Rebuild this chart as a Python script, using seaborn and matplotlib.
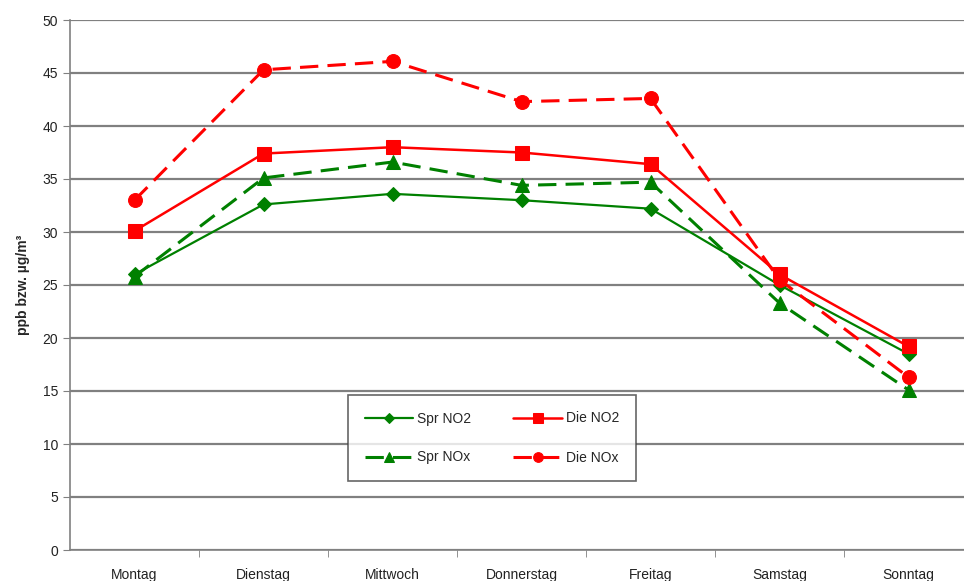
import numpy as np
import pandas as pd
import matplotlib
matplotlib.use("Agg")
import matplotlib.pyplot as plt
import seaborn as sns
from matplotlib.ticker import FixedLocator

days = ["Montag", "Dienstag", "Mittwoch", "Donnerstag", "Freitag", "Samstag", "Sonntag"]
spr_no2 = [26.0, 32.6, 33.6, 33.0, 32.2, 25.0, 18.5]
spr_nox = [25.8, 35.1, 36.6, 34.4, 34.7, 23.3, 15.1]
die_no2 = [30.1, 37.4, 38.0, 37.5, 36.4, 26.0, 19.2]
die_nox = [33.0, 45.3, 46.1, 42.3, 42.6, 25.5, 16.3]

series = {"Spr NO2": spr_no2, "Spr NOx": spr_nox, "Die NO2": die_no2, "Die NOx": die_nox}
styles = {
    "Spr NO2": dict(color="#008000", marker="D", ms=7, ls="-", lw=1.6),
    "Spr NOx": dict(color="#008000", marker="^", ms=10, ls=(0, (6, 3)), lw=2.2),
    "Die NO2": dict(color="#ff0000", marker="s", ms=10, ls="-", lw=1.8),
    "Die NOx": dict(color="#ff0000", marker="o", ms=10, ls=(0, (6, 3)), lw=2.2),
}

df = pd.DataFrame([(d, name, v) for name, vals in series.items() for d, v in zip(days, vals)],
                  columns=["Tag", "Reihe", "Wert"])

sns.set_style("white")
plt.rcParams["font.family"] = ["Liberation Sans", "DejaVu Sans"]

fig = plt.figure(figsize=(9.64, 5.81), dpi=100)
ax = fig.add_axes([70 / 964, 1 - 550 / 581, 903 / 964, 530 / 581])

for name in ["Spr NO2", "Die NO2", "Spr NOx", "Die NOx"]:
    st = styles[name]
    sub = df[df["Reihe"] == name]
    sns.lineplot(data=sub, x="Tag", y="Wert", ax=ax, color=st["color"], marker=st["marker"],
                 markersize=st["ms"], markeredgecolor=st["color"], linestyle=st["ls"],
                 linewidth=st["lw"], label=name, sort=False)

ax.set_xlim(-0.5, 6.5)
ax.set_ylim(0, 50)
ax.set_yticks(np.arange(0, 51, 5))
ax.yaxis.grid(True, color="#808080", linewidth=1.6)
ax.set_axisbelow(True)
for s in ["top", "right"]:
    ax.spines[s].set_visible(False)
for s in ["left", "bottom"]:
    ax.spines[s].set_color("#808080")
    ax.spines[s].set_linewidth(1.2)

ax.tick_params(axis="y", direction="out", length=5, color="#808080", labelsize=10,
               labelcolor="#222222", left=True)
ax.tick_params(axis="x", which="major", length=0, pad=13, labelsize=10, labelcolor="#222222")
ax.xaxis.set_minor_locator(FixedLocator(np.arange(0.5, 6.5, 1)))
ax.tick_params(axis="x", which="minor", direction="out", length=5, color="#808080", bottom=True)

ax.set_xlabel("")
ax.set_ylabel("ppb bzw. µg/m³", fontsize=10, fontweight="bold", labelpad=9)

handles, labels = ax.get_legend_handles_labels()
order = [labels.index(n) for n in ["Spr NO2", "Spr NOx", "Die NO2", "Die NOx"]]
leg = ax.legend([handles[i] for i in order], [labels[i] for i in order], ncol=2,
                loc="center", bbox_to_anchor=(492 / 964, 1 - 438 / 581),
                bbox_transform=fig.transFigure, frameon=True, fancybox=False,
                edgecolor="#404040", fontsize=10, handlelength=3.5, columnspacing=3,
                labelspacing=1.8, borderpad=1.2, handletextpad=0.3, markerscale=0.7)
leg.get_frame().set_linewidth(1.2)

fig.savefig("out.png", dpi=100)
